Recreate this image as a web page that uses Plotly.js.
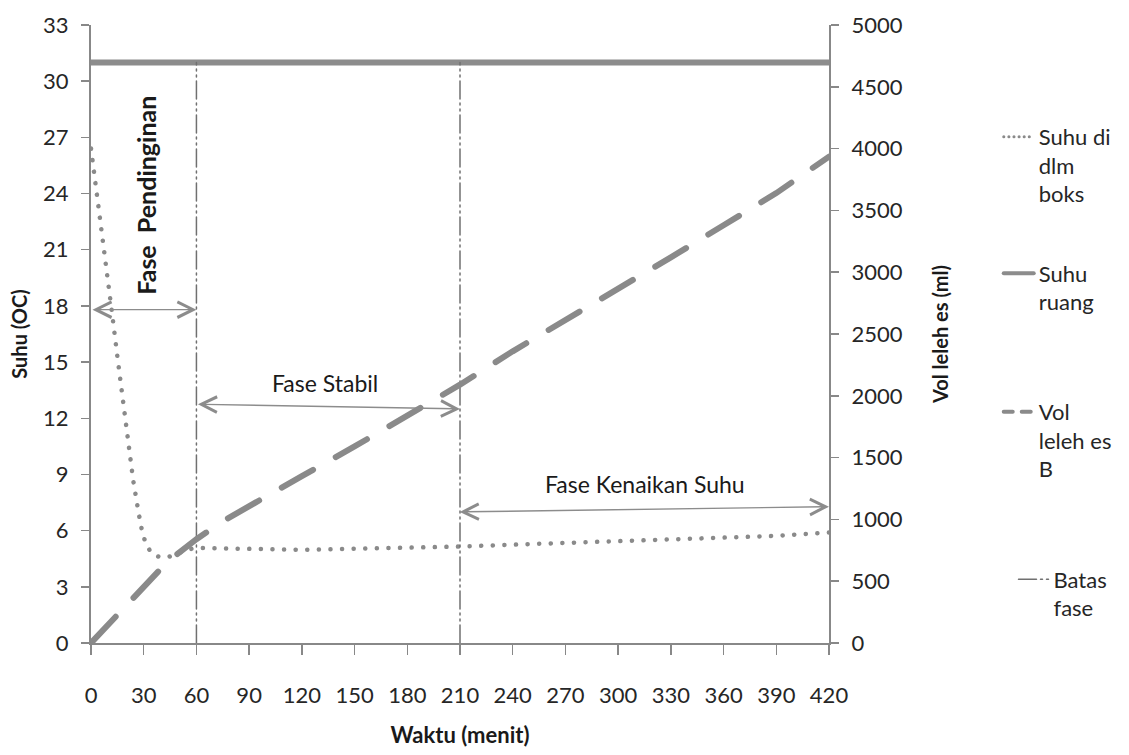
<!DOCTYPE html>
<html>
<head>
<meta charset="utf-8">
<script src="https://cdn.plot.ly/plotly-3.0.1.min.js"></script>
<style>
html,body{margin:0;padding:0;background:#fff;}
#chart{width:1129px;height:755px;}
</style>
</head>
<body>
<div id="chart"></div>
<script>
// ---- data ----
const tempTime = [0,3,6,9,12,15,18,21,24,27,29,31,34,37,40,44,48,53,60,75,90,105,120,135,150,165,180,195,210,240,270,300,330,360,390,420];
const tempBox  = [26.4,24.3,22.0,19.8,17.6,15.3,13.0,10.7,8.7,7.0,6.0,5.35,4.85,4.65,4.58,4.6,4.7,4.95,5.08,5.05,5.02,5.0,4.98,5.0,5.03,5.06,5.08,5.1,5.15,5.25,5.35,5.42,5.5,5.6,5.72,5.9];

const roomTime = [0,420];
const roomTemp = [31,31];

const volTime = [0,10,20,30,40,50,60,75,90,120,150,180,210,240,270,300,330,360,390,420];
const volMelt = [0,155,310,465,605,730,840,985,1110,1350,1590,1835,2090,2360,2610,2860,3120,3380,3640,3935];

const phaseBounds = [60,210];
const phaseTop = 31;

const phaseLabels = ['Fase  Pendinginan','Fase Stabil','Fase Kenaikan Suhu'];
const phaseStart  = [0,60,209];
const phaseEnd    = [60,210,420];
const arrowYStart = [17.8,12.75,7.0];
const arrowYEnd   = [17.8,12.5,7.28];
const labelX      = [31.5,133,315];
const labelY      = [23.9,13.9,8.5];

const legendNames = ['Suhu di<br>dlm<br>boks','Suhu<br>ruang','Vol<br>leleh es<br>B','Batas<br>fase'];

const xTicks = [0,30,60,90,120,150,180,210,240,270,300,330,360,390,420];
const yTicks = [0,3,6,9,12,15,18,21,24,27,30,33];
const y2Ticks = [0,500,1000,1500,2000,2500,3000,3500,4000,4500,5000];

// ---- build ----
const FONT = 'Lato, "Open Sans", sans-serif';
const boundX = [], boundY = [];
phaseBounds.forEach(b => { boundX.push(b,b,null); boundY.push(0,phaseTop,null); });

const traces = [
  {x: tempTime, y: tempBox, type:'scatter', mode:'lines', name: legendNames[0], legend:'legend',
   line:{color:'#8a8a8a', width:4.5, dash:'0.1px,11.5px'}, yaxis:'y'},
  {x: roomTime, y: roomTemp, type:'scatter', mode:'lines', name: legendNames[1], legend:'legend2',
   line:{color:'#8c8c8c', width:6}, yaxis:'y'},
  {x: volTime, y: volMelt, type:'scatter', mode:'lines', name: legendNames[2], legend:'legend3',
   line:{color:'#8a8a8a', width:6, dash:'36px,26px'}, yaxis:'y2'},
  {x: boundX, y: boundY, type:'scatter', mode:'lines', name: legendNames[3], legend:'legend4',
   line:{color:'#707070', width:1.5, dash:'18px,4px,2px,4px,2px,4px'}, yaxis:'y', connectgaps:false}
];

const annotations = [];
phaseLabels.forEach((lab,i) => {
  annotations.push({x: phaseEnd[i], y: arrowYEnd[i], ax: phaseStart[i], ay: arrowYStart[i],
    xref:'x', yref:'y', axref:'x', ayref:'y', text:'', showarrow:true,
    arrowside:'end+start', arrowhead:5, startarrowhead:5, arrowsize:2.2, startarrowsize:2.2,
    arrowwidth:1.4, arrowcolor:'#8c8c8c', standoff:0, startstandoff:0});
  annotations.push({x: labelX[i], y: labelY[i], xref:'x', yref:'y', text: i===0 ? '<b>'+lab+'</b>' : lab,
    showarrow:false, textangle: i===0 ? -90 : 0,
    font:{family:FONT, size: i===0 ? 25 : 23, color:'#1a1a1a'}});
});

const legBase = {font:{family:FONT, size:22, color:'#262626'}, bgcolor:'rgba(0,0,0,0)',
  xanchor:'left', yanchor:'top', valign:'top', tracegroupgap:0};

const layout = {
  width:1129, height:755,
  margin:{l:91, r:296, t:25, b:112},
  paper_bgcolor:'#fff', plot_bgcolor:'#fff',
  font:{family:FONT, size:22, color:'#333'},
  showlegend:true,
  xaxis:{range:[0,420], tickvals:xTicks, ticks:'outside', ticklen:10, tickwidth:1.5, tickcolor:'#888',
    showline:true, linecolor:'#888', linewidth:2, showgrid:false, zeroline:false,
    ticklabelstandoff:22, tickfont:{family:FONT, size:22, color:'#262626'},
    title:{text:'<b>Waktu (menit)</b>', font:{family:FONT, size:22, color:'#1a1a1a'}, standoff:20}},
  yaxis:{range:[0,33], tickvals:yTicks, ticks:'outside', ticklen:8, tickwidth:1.5, tickcolor:'#888',
    showline:true, linecolor:'#888', linewidth:2, showgrid:false, zeroline:false,
    ticklabelstandoff:8, tickfont:{family:FONT, size:22, color:'#262626'},
    title:{text:'<b>Suhu (OC)</b>', font:{family:FONT, size:20, color:'#1a1a1a'}, standoff:10}},
  yaxis2:{range:[0,5000], tickvals:y2Ticks, overlaying:'y', side:'right', ticks:'outside', ticklen:8,
    tickwidth:1.5, tickcolor:'#888', showline:true, linecolor:'#888', linewidth:2, showgrid:false,
    zeroline:false, ticklabelstandoff:8, tickfont:{family:FONT, size:22, color:'#262626'},
    title:{text:'<b>Vol leleh es (ml)</b>', font:{family:FONT, size:20, color:'#1a1a1a'}, standoff:32}},
  legend: Object.assign({}, legBase, {x:1.23, y:0.853}),
  legend2: Object.assign({}, legBase, {x:1.23, y:0.632}),
  legend3: Object.assign({}, legBase, {x:1.23, y:0.408}),
  legend4: Object.assign({}, legBase, {x:1.25, y:0.137}),
  annotations: annotations
};

Plotly.newPlot('chart', traces, layout, {displayModeBar:false, staticPlot:true}).then(() => {
  document.querySelectorAll('.scatterlayer .js-line, .legendlines path').forEach(p => {
    p.style.strokeLinecap = 'round';
  });
  document.querySelectorAll('.legend3 .legendlines path').forEach(p => {
    p.style.strokeDasharray = '9px,9px';
    p.style.strokeWidth = '4px';
  });
  document.querySelectorAll('.legend2 .legendlines path').forEach(p => {
    p.style.strokeWidth = '4px';
  });
  document.querySelectorAll('.legend .legendlines path').forEach(p => {
    p.style.strokeDasharray = '0.1px,5px';
    p.style.strokeWidth = '3px';
  });
});
</script>
</body>
</html>
